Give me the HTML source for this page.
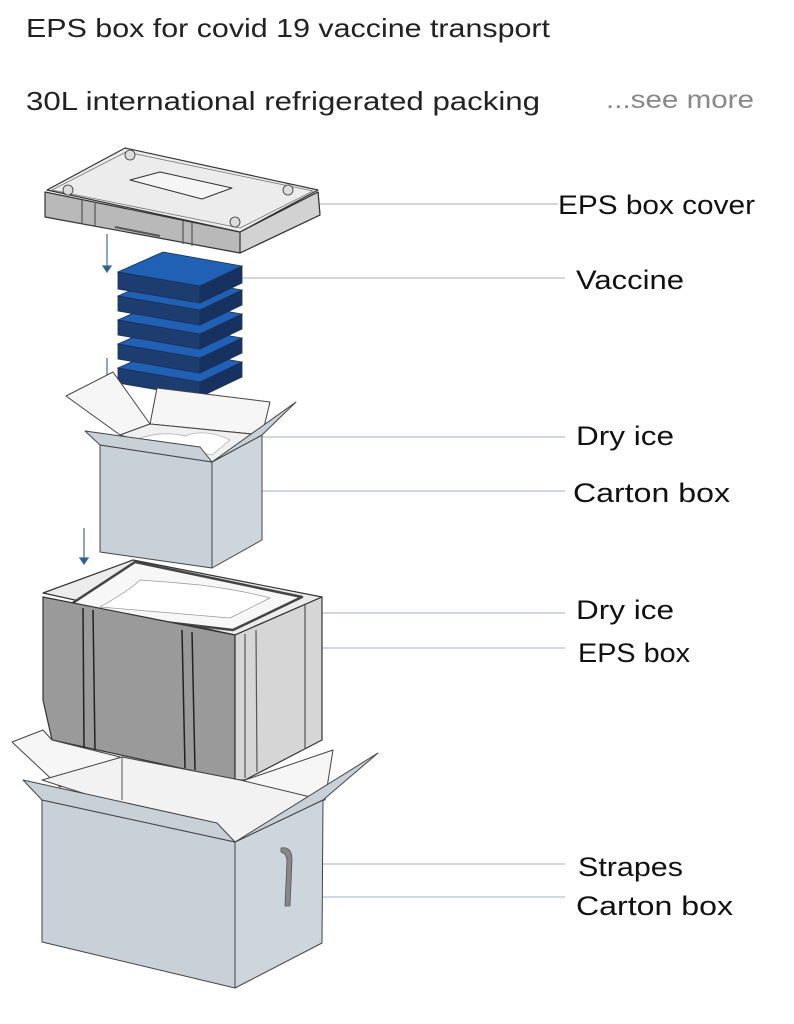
<!DOCTYPE html>
<html><head><meta charset="utf-8"><style>
html,body{margin:0;padding:0;background:#fff;}
svg{display:block;}
</style></head><body>
<svg width="794" height="1024" viewBox="0 0 794 1024" xmlns="http://www.w3.org/2000/svg" font-family="Liberation Sans, sans-serif">
<rect width="794" height="1024" fill="#fff"/>
<text x="26" y="37" font-size="26" fill="#222" textLength="524" lengthAdjust="spacingAndGlyphs">EPS box for covid 19 vaccine transport</text>
<text x="26" y="110" font-size="26" fill="#222" textLength="514" lengthAdjust="spacingAndGlyphs">30L international refrigerated packing</text>
<text x="606" y="108" font-size="25" fill="#888" textLength="148" lengthAdjust="spacingAndGlyphs">...see more</text>

<g stroke="#9fb0c0" stroke-width="1">
<line x1="318" y1="204" x2="558" y2="204"/>
<line x1="242" y1="278" x2="565" y2="278"/>
<line x1="212" y1="437" x2="565" y2="437"/>
<line x1="258" y1="491" x2="565" y2="491"/>
<line x1="232" y1="613" x2="565" y2="613"/>
<line x1="236" y1="648" x2="565" y2="648"/>
<line x1="290" y1="864" x2="565" y2="864"/>
<line x1="312" y1="897" x2="565" y2="897"/>
</g>
<g font-size="27" fill="#111">
<text x="558" y="214" textLength="197" lengthAdjust="spacingAndGlyphs">EPS box cover</text>
<text x="576" y="289" textLength="108" lengthAdjust="spacingAndGlyphs">Vaccine</text>
<text x="576" y="445" textLength="98" lengthAdjust="spacingAndGlyphs">Dry ice</text>
<text x="573" y="502" textLength="157" lengthAdjust="spacingAndGlyphs">Carton box</text>
<text x="576" y="619" textLength="98" lengthAdjust="spacingAndGlyphs">Dry ice</text>
<text x="578" y="662" textLength="112" lengthAdjust="spacingAndGlyphs">EPS box</text>
<text x="578" y="876" textLength="105" lengthAdjust="spacingAndGlyphs">Strapes</text>
<text x="576" y="915" textLength="157" lengthAdjust="spacingAndGlyphs">Carton box</text>
</g>

<g stroke="#3a6a9a" stroke-width="1.2" fill="#2a5a8a">
<line x1="107" y1="234" x2="107" y2="268"/><path d="M103,266 L111,266 L107,272Z"/>
<line x1="107" y1="358" x2="107" y2="390"/><path d="M103,388 L111,388 L107,394Z"/>
<line x1="84" y1="528" x2="84" y2="560"/><path d="M80,558 L88,558 L84,564Z"/>
<line x1="83" y1="745" x2="83" y2="782"/><path d="M79,780 L87,780 L83,786Z"/>
</g>

<g stroke="#333" stroke-width="1.2" stroke-linejoin="round">
<polygon points="45,192 45,217 240,253 320,215 318,192 240,232" fill="#b9b9b9"/>
<polygon points="240,232 318,192 320,215 240,253" fill="#d2d2d2"/>
<polygon points="47,190 125,148 318,190 240,232" fill="#ececec"/>
<polygon points="52,190 126,152 313,191 240,228" fill="none" stroke="#777" stroke-width="0.8"/>
<polygon points="130,180 160,172 232,188 202,199" fill="#f5f5f5" stroke-width="1"/>
<line x1="82" y1="200" x2="82" y2="224" stroke="#555"/>
<line x1="95" y1="202" x2="95" y2="226" stroke="#555"/>
<line x1="183" y1="221" x2="183" y2="244" stroke="#555"/>
<line x1="192" y1="223" x2="192" y2="246" stroke="#555"/>
<line x1="115" y1="227" x2="160" y2="236" stroke="#555" stroke-width="2"/>
<circle cx="68" cy="190" r="5" fill="#ddd" stroke-width="0.8"/>
<circle cx="235" cy="222" r="5" fill="#ddd" stroke-width="0.8"/>
<circle cx="288" cy="190" r="5" fill="#ddd" stroke-width="0.8"/>
<circle cx="130" cy="155" r="5" fill="#ddd" stroke-width="0.8"/>
</g>

<g stroke="#1a2f55" stroke-width="0.8">
<g transform="translate(0,96)"><polygon points="118,272 200,286 200,301 118,287" fill="#1d3c70"/><polygon points="200,286 242,266 242,281 200,301" fill="#173260"/><polygon points="118,272 163,252 242,266 200,286" fill="#2060b5"/></g>
<g transform="translate(0,72)"><polygon points="118,272 200,286 200,301 118,287" fill="#1d3c70"/><polygon points="200,286 242,266 242,281 200,301" fill="#173260"/><polygon points="118,272 163,252 242,266 200,286" fill="#2060b5"/></g>
<g transform="translate(0,48)"><polygon points="118,272 200,286 200,301 118,287" fill="#1d3c70"/><polygon points="200,286 242,266 242,281 200,301" fill="#173260"/><polygon points="118,272 163,252 242,266 200,286" fill="#2060b5"/></g>
<g transform="translate(0,24)"><polygon points="118,272 200,286 200,301 118,287" fill="#1d3c70"/><polygon points="200,286 242,266 242,281 200,301" fill="#173260"/><polygon points="118,272 163,252 242,266 200,286" fill="#2060b5"/></g>
<g><polygon points="118,272 200,286 200,303 118,289" fill="#1d3c70"/><polygon points="200,286 242,266 242,283 200,303" fill="#173260"/><polygon points="118,272 163,252 242,266 200,286" fill="#2060b5"/></g>
</g>

<g stroke="#444" stroke-width="1" stroke-linejoin="round">
<polygon points="66,396 113,372 150,424 120,435" fill="#f6f6f6"/>
<polygon points="157,388 270,402 262,435 150,424" fill="#f6f6f6"/>
<polygon points="120,435 150,424 262,435 212,462" fill="#f0f0f0"/>
<path d="M135,440 Q160,430 185,436 Q205,428 230,440 L212,455 Z" fill="#fff" stroke="#aaa" stroke-width="0.7"/>
<polygon points="100,445 212,462 212,568 100,552" fill="#c8d1d8"/>
<polygon points="212,462 262,435 262,540 212,568" fill="#cdd6dc"/>
<polygon points="85,431 100,445 212,462 200,447" fill="#c8d1d8"/>
<polygon points="212,462 296,402 262,435" fill="#c8d1d8"/>
</g>

<g stroke="#333" stroke-width="1.2" stroke-linejoin="round">
<polygon points="43,593 133,560 322,597 235,635" fill="#ececec"/>
<polygon points="62,610 135,562 302,597 233,630" fill="#f7f7f7" stroke="#444" stroke-width="2.5"/>
<path d="M100,607 Q130,590 140,580 Q170,582 200,585 Q240,590 270,598 L230,618 Z" fill="#fff" stroke="#999" stroke-width="0.7"/>
<polygon points="43,597 235,635 235,780 52,740 43,700" fill="#9a9a9a"/>
<polygon points="235,635 322,597 322,740 245,780 235,780" fill="#d6d6d6"/>
<line x1="83" y1="608" x2="84" y2="748" stroke="#222" stroke-width="1.5"/>
<line x1="93" y1="610" x2="95" y2="750" stroke="#222" stroke-width="1.5"/>
<line x1="182" y1="630" x2="185" y2="768" stroke="#222" stroke-width="1.5"/>
<line x1="192" y1="632" x2="195" y2="770" stroke="#222" stroke-width="1.5"/>
<line x1="245" y1="634" x2="245" y2="778" stroke="#555"/>
<line x1="256" y1="630" x2="257" y2="772" stroke="#555"/>
<line x1="305" y1="605" x2="305" y2="748" stroke="#555"/>
</g>

<g stroke="#444" stroke-width="1" stroke-linejoin="round">
<polygon points="12,742 43,730 52,740 120,757 60,787" fill="#f6f6f6"/>
<polygon points="122,757 122,800 232,828 240,780" fill="#f6f6f6"/>
<polygon points="245,780 333,750 325,800 240,810" fill="#f6f6f6"/>
<polygon points="42,780 122,757 240,780 323,800 235,842" fill="#f2f2f2"/>
<line x1="122" y1="757" x2="122" y2="800" stroke="#555"/>
<polygon points="42,800 235,842 235,988 42,942" fill="#c8d1d8"/>
<polygon points="235,842 323,800 322,943 235,988" fill="#cdd6dc"/>
<polygon points="23,780 42,800 235,842 217,823" fill="#c8d1d8"/>
<polygon points="235,842 378,753 323,800" fill="#c8d1d8"/>
<path d="M281,848 Q292,846 292,860 L290,906 L285,906 L287,860 Q286,853 281,852 Z" fill="#888" stroke="#555" stroke-width="0.8"/>
</g>
</svg>
</body></html>
